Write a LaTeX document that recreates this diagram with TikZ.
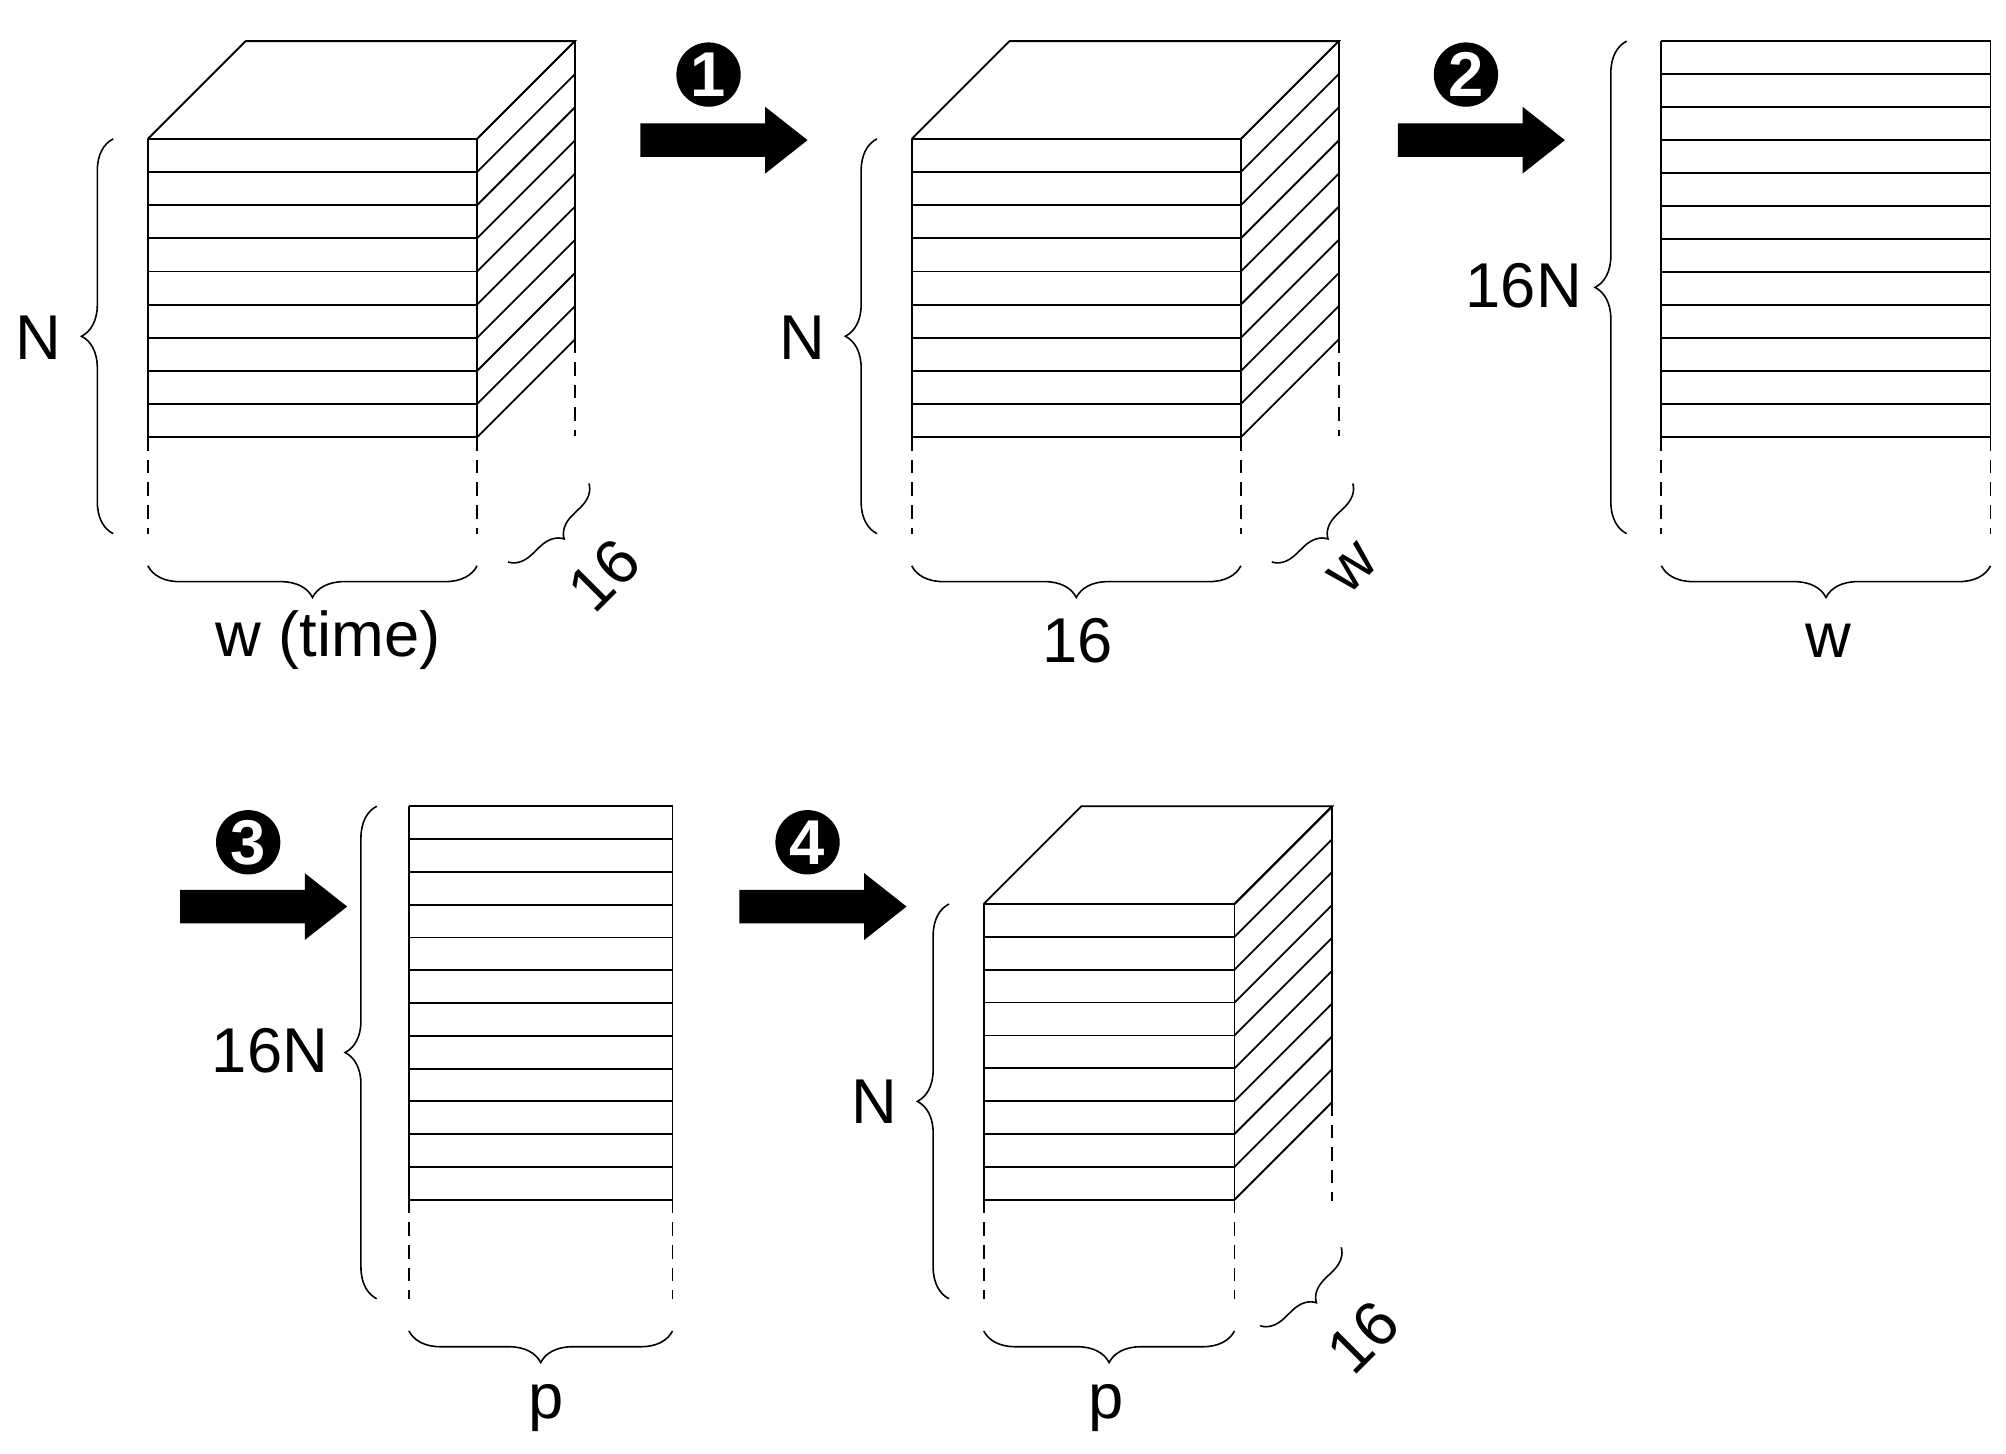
\documentclass[tikz,border=0pt]{standalone}
\usepackage{fontspec}
\setmainfont{Liberation Sans}
\usetikzlibrary{decorations.pathreplacing}
\newcommand\mystack[7]{% x0,x1,ytop,ybot,ydash,n,depth
  \pgfmathsetmacro\stp{(#4-#3)/#6}
  \foreach \k in {0,...,#6}{
    \pgfmathsetmacro\yy{#3+\k*\stp}
    \draw (#1,\yy)--(#2,\yy);
    \ifnum#7>0 \draw (#2,\yy)--++(#7,-#7); \fi
  }
  \draw (#1,#3)--(#1,#4) (#2,#3)--(#2,#4);
  \draw[dsh] (#1,#4)--(#1,#5) (#2,#4)--(#2,#5);
  \ifnum#7>0
    \draw (#1,#3)--++(#7,-#7)--++(#2-#1,0)--(#2,#3);
    \draw (#2+#7,#3-#7)--(#2+#7,#4-#7);
    \draw[dsh] (#2+#7,#4-#7)--(#2+#7,#5-#7);
  \fi
}
\newcommand\bigarrow[2]{% start x, center y
  \fill (#1,#2-13)--(#1+97,#2-13)--(#1+97,#2-26)--(#1+130,#2)--(#1+97,#2+26)--(#1+97,#2+13)--(#1,#2+13)--cycle;
}
\begin{document}
\begin{tikzpicture}[x=0.01cm,y=-0.01cm,line width=0.4pt,
  dsh/.style={dash pattern=on 3pt off 2pt},
  br/.style={decorate,decoration={brace,amplitude=7pt},line width=0.35pt},
  dbr/.style={decorate,decoration={brace,amplitude=5pt},line width=0.35pt},
  lbl/.style={font=\fontsize{14}{16}\selectfont},
  num/.style={circle,fill=black,text=white,inner sep=0pt,minimum size=0.5cm,font=\bfseries\fontsize{14}{16}\selectfont}]
\useasboundingbox (0,0) rectangle (1560,1130);
% cube 1
\mystack{115}{371}{108}{340}{415}{9}{76}
\draw[br] (88,415)--(88,108);
\node[lbl] (n1) at (30,263) {N};
\draw[br] (371,440)--(115,440);
\node[lbl] (w1) at (255,498) {w (time)};
\draw[dbr] (458,376)--(395,437);
\node[lbl,rotate=45] (s1) at (470,447) {16};
% arrow 1
\bigarrow{498}{109}
\node[num] (c1) at (551,58) {1};
% cube 2
\mystack{709}{965}{108}{340}{415}{9}{76}
\draw[br] (682,415)--(682,108);
\node[lbl] (n2) at (624,263) {N};
\draw[br] (965,440)--(709,440);
\node[lbl] (w2) at (838,498) {16};
\draw[dbr] (1052,376)--(989,437);
\node[lbl,rotate=45] (s2) at (1052,442) {w};
% arrow 2
\bigarrow{1087}{109}
\node[num] (c2) at (1140,58) {2};
% panel 3
\mystack{1292}{1548}{32}{340}{415}{12}{0}
\draw[br] (1265,415)--(1265,32);
\node[lbl] (n3) at (1185,222) {16N};
\draw[br] (1548,440)--(1292,440);
\node[lbl] (w3) at (1422,498) {w};
% arrow 3
\bigarrow{140}{705}
\node[num] (c3) at (193,655) {3};
% panel 4
\mystack{318}{523}{627}{933}{1010}{12}{0}
\draw[br] (293,1010)--(293,627);
\node[lbl] (n4) at (210,817) {16N};
\draw[br] (523,1035)--(318,1035);
\node[lbl] (w4) at (425,1095) {p};
% arrow 4
\bigarrow{575}{705}
\node[num] (c4) at (628,655) {4};
% cube 5
\mystack{765}{960}{703}{933}{1010}{9}{76}
\draw[br] (738,1010)--(738,703);
\node[lbl] (n5) at (680,857) {N};
\draw[br] (960,1035)--(765,1035);
\node[lbl] (w5) at (860,1095) {p};
\draw[dbr] (1043,970)--(980,1031);
\node[lbl,rotate=45] (s5) at (1060,1040) {16};
\end{tikzpicture}
\end{document}
